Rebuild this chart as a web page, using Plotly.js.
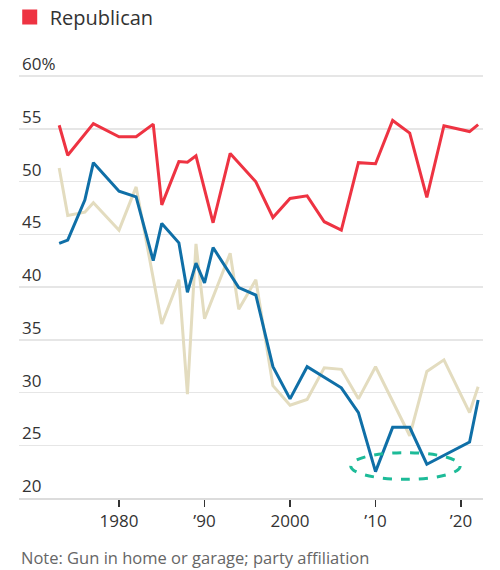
<!DOCTYPE html>
<html>
<head>
<meta charset="utf-8">
<script src="https://cdn.plot.ly/plotly-3.0.1.min.js"></script>
<style>html,body{margin:0;padding:0;background:#fff}#chart{width:500px;height:570px}</style>
</head>
<body>
<div id="chart"></div>
<script>
const years = [1973,1974,1976,1977,1980,1982,1984,1985,1987,1988,1989,1990,1991,1993,1994,1996,1998,2000,2002,2004,2006,2008,2010,2012,2014,2016,2018,2021,2022];
const republican = [55.35,52.5,null,55.5,54.25,54.25,55.45,47.8,51.9,51.85,52.45,null,46.1,52.67,null,49.98,46.6,48.4,48.65,46.2,45.4,51.8,51.7,55.8,54.6,48.5,55.3,54.75,55.4];
const democrat = [44.14,44.45,48.25,51.8,49.1,48.55,42.5,46.04,44.2,39.5,42.27,40.4,43.75,null,39.95,39.25,32.45,29.4,32.45,null,30.45,28.1,22.5,26.7,26.7,23.2,null,25.3,29.3];
const independent = [51.3,46.8,47.1,48.0,45.4,49.5,null,36.5,40.7,29.85,44.1,37.0,null,43.2,37.9,40.7,30.65,28.8,29.35,32.35,32.2,29.4,32.45,null,25.9,32.0,33.1,28.1,30.55];
const yTickVals = [20,25,30,35,40,45,50,55,60];
const yTickText = ['20','25','30','35','40','45','50','55','60%'];
const xTickVals = [1980,1990,2000,2010,2020];
const xTickText = ['1980','\u201990','2000','\u201910','\u201920'];
const highlight = {x0:2007.1, x1:2019.9, y0:21.77, y1:24.3};

const font = 'Open Sans, Noto Sans, sans-serif';
const traces = [
  {x: years, y: independent, name: 'Independent', mode: 'lines', connectgaps: true,
   line: {color: '#e3dcbf', width: 3}, showlegend: false, hoverinfo: 'skip'},
  {x: years, y: democrat, name: 'Democrat', mode: 'lines', connectgaps: true,
   line: {color: '#0f6fa7', width: 3}, showlegend: false, hoverinfo: 'skip'},
  {x: years, y: republican, name: 'Republican', mode: 'lines', connectgaps: true,
   line: {color: '#ee3342', width: 3}, showlegend: false, hoverinfo: 'skip'},
  {x: [null], y: [null], name: 'Republican', mode: 'markers',
   marker: {symbol: 'square', size: 15, color: '#ee3342'}, showlegend: true}
];
const layout = {
  width: 500, height: 570,
  margin: {l: 19, r: 17, t: 34, b: 72, autoexpand: false},
  paper_bgcolor: '#fff', plot_bgcolor: '#fff',
  font: {family: font, color: '#333'},
  showlegend: true,
  legend: {x: -0.02, xanchor: 'left', y: 1.0366, yanchor: 'middle', orientation: 'h',
           font: {size: 20, color: '#333', family: font}, bgcolor: 'rgba(0,0,0,0)'},
  xaxis: {range: [1968.3, 2022.57], tickvals: xTickVals, ticktext: xTickText,
          ticks: 'outside', ticklen: 7, tickwidth: 1.5, tickcolor: '#333',
          showline: true, linecolor: '#dcdcdc', linewidth: 2,
          showgrid: false, zeroline: false, tickfont: {size: 17, color: '#333'}},
  yaxis: {range: [20, 64], tickvals: yTickVals, ticktext: yTickText,
          ticklabelposition: 'inside top', ticks: '', showline: false,
          showgrid: true, gridcolor: '#e6e6e6', gridwidth: 1.5, zeroline: false,
          tickfont: {size: 17, color: '#333'}},
  shapes: [{type: 'circle', xref: 'x', yref: 'y',
            x0: highlight.x0, x1: highlight.x1, y0: highlight.y0, y1: highlight.y1,
            line: {color: '#1dbb98', width: 3, dash: 'dash'}}],
  annotations: [{xref: 'paper', yref: 'paper', x: 0, y: -0.129, xanchor: 'left', yanchor: 'middle',
                 text: 'Note: Gun in home or garage; party affiliation', showarrow: false,
                 font: {size: 16.5, color: '#666', family: font}}]
};
Plotly.newPlot('chart', traces, layout, {displayModeBar: false, staticPlot: true});
</script>
</body>
</html>
